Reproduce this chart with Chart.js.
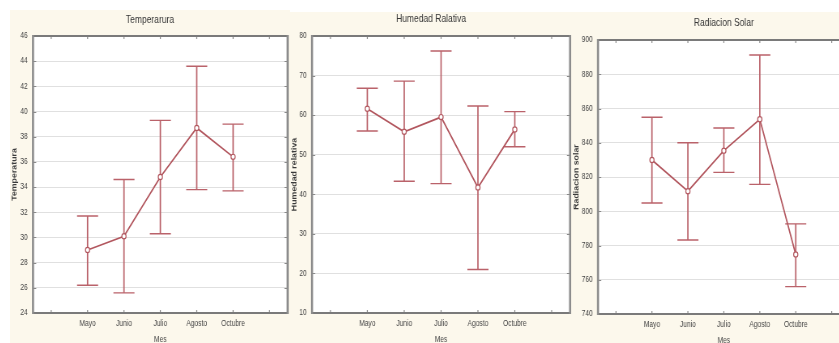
<!DOCTYPE html>
<html>
<head>
<meta charset="utf-8">
<script src="https://cdn.jsdelivr.net/npm/chart.js@4.4.1/dist/chart.umd.min.js"></script>
<style>
  html, body { margin: 0; padding: 0; background: #ffffff; }
  body { width: 839px; height: 343px; overflow: hidden; position: relative; }
  .panel { position: absolute; background: #fcf8ec; }
  /* the charts are drawn wide and squeezed horizontally, giving narrow lettering */
  canvas { position: absolute; transform: scaleX(0.81); transform-origin: 0 0; }
</style>
</head>
<body>
<div class="panel" style="left:10px; top:10px; width:280px; height:333px;"></div>
<div class="panel" style="left:290px; top:12px; width:282px; height:331px;"></div>
<div class="panel" style="left:572px; top:12px; width:267px; height:331px;"></div>
<canvas id="cTemp" width="348" height="340" style="left:10px; top:10px; width:348px; height:340px;"></canvas>
<canvas id="cHum" width="351" height="338" style="left:290px; top:12px; width:351px; height:338px;"></canvas>
<canvas id="cRad" width="348" height="338" style="left:572px; top:12px; width:348px; height:338px;"></canvas>
<script>
// Meses muestreados
const meses = ['Mayo', 'Junio', 'Julio', 'Agosto', 'Octubre'];

// Temperatura: media e intervalo
const tempMedia = [29.0, 30.1, 34.8, 38.7, 36.4];
const tempSup   = [31.7, 34.6, 39.3, 43.6, 39.0];
const tempInf   = [26.2, 25.6, 30.3, 33.8, 33.7];

// Humedad relativa: media e intervalo
const humMedia = [61.6, 55.8, 59.5, 41.7, 56.4];
const humSup   = [66.8, 68.6, 76.2, 62.3, 60.9];
const humInf   = [56.0, 43.3, 42.7, 21.0, 52.0];

// Radiacion solar: media e intervalo
const radMedia = [829.9, 811.7, 835.4, 853.7, 774.8];
const radSup   = [854.9, 840.0, 848.6, 891.2, 792.6];
const radInf   = [804.8, 783.2, 822.7, 815.7, 756.0];

// Escalas del eje Y (min, max, paso)
const tempEje = [24, 46, 2];
const humEje  = [10, 80, 10];
const radEje  = [740, 900, 20];

const SANS = "'Liberation Sans', Arial, sans-serif";
const ROJO = 'rgb(178, 86, 94)';
const ROJO_BARRA = 'rgb(186, 98, 106)';
const K = 0.81;               // compresion horizontal del lienzo
const TAM_TITULO = 10.5;
const TAM_ETIQ = 8.2;

// Fondo blanco del area de trazado
const fondoPlugin = {
  id: 'fondo',
  beforeDraw(chart) {
    const a = chart.chartArea, ctx = chart.ctx;
    ctx.save();
    ctx.fillStyle = '#ffffff';
    ctx.fillRect(a.left, a.top, a.right - a.left, a.bottom - a.top);
    ctx.restore();
  }
};

// Barras de error verticales con remates
const barrasPlugin = {
  id: 'barras',
  beforeDatasetsDraw(chart, args, opts) {
    const x = chart.scales.x, y = chart.scales.y, ctx = chart.ctx;
    ctx.save();
    ctx.strokeStyle = ROJO_BARRA;
    opts.sup.forEach((s, i) => {
      const px = x.getPixelForValue(i + 1);
      const pt = y.getPixelForValue(s);
      const pb = y.getPixelForValue(opts.inf[i]);
      ctx.lineWidth = 1.7;
      ctx.beginPath();
      ctx.moveTo(px, pt); ctx.lineTo(px, pb);
      ctx.stroke();
      ctx.lineWidth = 1.4;
      ctx.beginPath();
      ctx.moveTo(px - 13, pt); ctx.lineTo(px + 13, pt);
      ctx.moveTo(px - 13, pb); ctx.lineTo(px + 13, pb);
      ctx.stroke();
    });
    ctx.restore();
  }
};

// Marco del area de trazado con marcas interiores
const marcoPlugin = {
  id: 'marco',
  afterDraw(chart) {
    const a = chart.chartArea, ctx = chart.ctx;
    const x = chart.scales.x, y = chart.scales.y;
    ctx.save();
    ctx.strokeStyle = '#8a8a8a';
    ctx.lineWidth = 1.2;
    ctx.beginPath();
    x.ticks.forEach(t => {
      const px = x.getPixelForValue(t.value);
      ctx.moveTo(px, a.top); ctx.lineTo(px, a.top + 3);
      ctx.moveTo(px, a.bottom); ctx.lineTo(px, a.bottom - 3);
    });
    ctx.stroke();
    ctx.lineWidth = 1;
    ctx.beginPath();
    y.ticks.forEach(t => {
      const py = Math.round(y.getPixelForValue(t.value)) + 0.5;
      ctx.moveTo(a.left, py); ctx.lineTo(a.left + 4, py);
      ctx.moveTo(a.right, py); ctx.lineTo(a.right - 4, py);
    });
    ctx.stroke();
    ctx.strokeStyle = '#7a7a7a';
    ctx.lineWidth = 2;
    ctx.beginPath();
    ctx.moveTo(a.left, a.top); ctx.lineTo(a.right, a.top);
    ctx.moveTo(a.left, a.bottom); ctx.lineTo(a.right, a.bottom);
    ctx.stroke();
    ctx.strokeStyle = '#8c8c8c';
    ctx.lineWidth = 2.6;
    ctx.beginPath();
    ctx.moveTo(a.left, a.top - 1); ctx.lineTo(a.left, a.bottom + 1);
    ctx.moveTo(a.right, a.top - 1); ctx.lineTo(a.right, a.bottom + 1);
    ctx.stroke();
    ctx.restore();
  }
};

function grafico(id, cfg) {
  const [yMin, yMax, yPaso] = cfg.eje;
  const lhT = TAM_TITULO * 1.2, lhE = TAM_ETIQ * 1.2;
  return new Chart(document.getElementById(id), {
    type: 'line',
    data: {
      datasets: [{
        data: meses.map((m, i) => ({ x: i + 1, y: cfg.media[i] })),
        borderColor: ROJO,
        borderWidth: 1.7,
        pointRadius: 2.6,
        pointBorderWidth: 1.2,
        pointBackgroundColor: '#ffffff',
        pointBorderColor: ROJO,
        tension: 0
      }]
    },
    options: {
      responsive: false,
      animation: false,
      devicePixelRatio: 1,
      layout: { padding: { left: 0, top: 0, right: cfg.derecha, bottom: 0 } },
      plugins: {
        legend: { display: false },
        tooltip: { enabled: false },
        title: {
          display: true,
          text: cfg.titulo,
          fullSize: cfg.tituloAncho,
          color: '#363636',
          font: { family: SANS, size: TAM_TITULO, weight: 'normal' },
          padding: { top: cfg.tituloY0 - lhT / 2, bottom: cfg.arriba - cfg.tituloY0 - lhT / 2 }
        },
        barras: { sup: cfg.sup, inf: cfg.inf }
      },
      scales: {
        x: {
          type: 'linear',
          min: -0.5,
          max: 6.5,
          afterBuildTicks: s => { s.ticks = [0, 1, 2, 3, 4, 5, 6].map(v => ({ value: v })); },
          afterFit: s => { s.height = cfg.altoX; },
          ticks: {
            autoSkip: false,
            maxRotation: 0,
            padding: 11 - lhE / 2,
            color: '#444444',
            font: { family: SANS, size: TAM_ETIQ },
            callback: v => meses[v - 1] || ''
          },
          grid: { display: false, drawTicks: false },
          border: { display: false },
          title: {
            display: true,
            text: 'Mes',
            color: '#444444',
            font: { family: SANS, size: TAM_ETIQ },
            padding: { top: 0, bottom: cfg.altoX - 27 - lhE / 2 }
          }
        },
        y: {
          min: yMin,
          max: yMax,
          afterFit: s => { s.width = cfg.anchoY; },
          ticks: {
            stepSize: yPaso,
            padding: 6.5,
            color: '#444444',
            font: { family: SANS, size: TAM_ETIQ }
          },
          grid: { color: '#e0e0e0', lineWidth: 1, drawTicks: false },
          border: { display: false },
          title: {
            display: true,
            text: cfg.tituloEjeY,
            color: '#3a3a3a',
            font: { family: SANS, size: 8.8, weight: 'bold' },
            padding: { top: 0.6, bottom: 0 }
          }
        }
      }
    },
    plugins: [fondoPlugin, barrasPlugin, marcoPlugin]
  });
}

grafico('cTemp', {
  titulo: 'Temperarura', tituloEjeY: 'Temperatura',
  media: tempMedia, sup: tempSup, inf: tempInf, eje: tempEje,
  tituloAncho: true, tituloY0: 9.8, arriba: 26,
  anchoY: 23 / K, derecha: 348 - 280 / K, altoX: 37
});

grafico('cHum', {
  titulo: 'Humedad Ralativa', tituloEjeY: 'Humedad relativa',
  media: humMedia, sup: humSup, inf: humInf, eje: humEje,
  tituloAncho: true, tituloY0: 7.5, arriba: 24,
  anchoY: 22 / K, derecha: 351 - 282 / K, altoX: 37
});

grafico('cRad', {
  titulo: 'Radiacion Solar', tituloEjeY: 'Radiacion solar',
  media: radMedia, sup: radSup, inf: radInf, eje: radEje,
  tituloAncho: false, tituloY0: 11, arriba: 28,
  anchoY: 26 / K, derecha: 348 - 280 / K, altoX: 36
});
</script>
</body>
</html>
